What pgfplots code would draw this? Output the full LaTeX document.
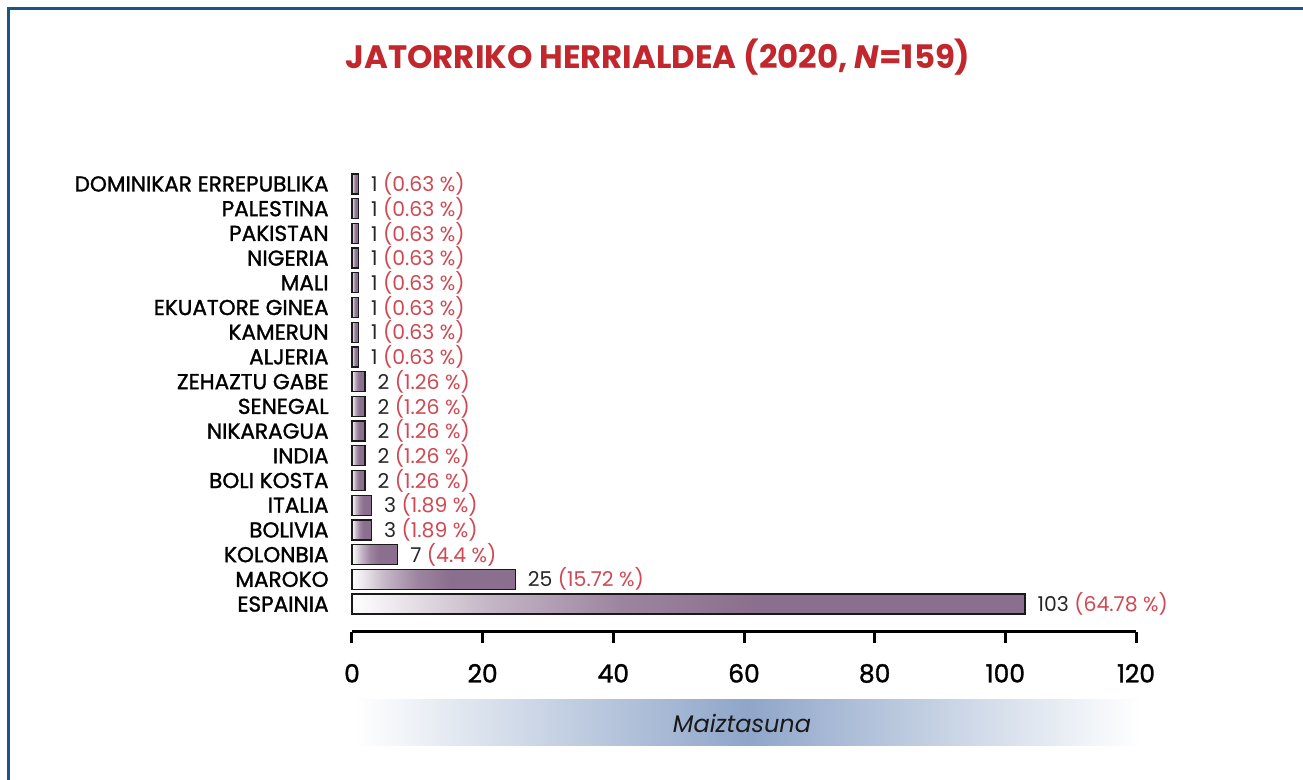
\documentclass[border=0pt]{standalone}
\usepackage{pgfplots}
\pgfplotsset{compat=1.18}
\usepackage{fontspec}
\setmainfont{Poppins}
\newfontfamily\pmed[FakeBold=1.3]{Poppins}
\definecolor{titlered}{RGB}{193,39,45}
\definecolor{pctred}{RGB}{208,72,82}
\definecolor{barpurple}{RGB}{139,111,142}
\definecolor{bandblue}{RGB}{143,166,201}
\definecolor{frameblue}{RGB}{28,84,134}
\pgfdeclarehorizontalshading{barshade}{100bp}{color(0bp)=(white); color(25bp)=(white); color(35bp)=(barpurple!50!white); color(45bp)=(barpurple!85!white); color(55bp)=(barpurple); color(100bp)=(barpurple)}
\newcommand\pc[1]{\textcolor{pctred}{(#1 \%)}}
\pgfplotsset{onebar/.style={draw=black!90, line width=0.6pt, shading=barshade}}
\begin{document}
\begin{tikzpicture}
\fill[white] (0,0) rectangle (651.5pt,-390pt);
\path[use as bounding box] (0,0) rectangle (651.5pt,-390pt);
\draw[frameblue, line width=1.5pt] (4.25pt,-390pt) -- (4.25pt,-4.25pt) -- (651.5pt,-4.25pt);
\node[text=titlered, font=\bfseries\fontsize{16.2}{19}\selectfont] at (329pt,-28.5pt) {JATORRIKO HERRIALDEA (2020, \textit{N}=159)};
\shade[left color=white, right color=white, middle color=bandblue] (177.5pt,-350pt) rectangle (570pt,-373pt);
\node[font=\itshape\fontsize{12}{14}\selectfont, text=black!90] at (371pt,-361.5pt) {Maiztasuna};
\begin{axis}[
 at={(176pt,-316pt)}, anchor=south west, scale only axis, width=392pt, height=230.2pt,
 xmin=0, xmax=120, ymin=-1.13, ymax=17.5,
 axis x line*=bottom, axis y line*=left, y axis line style={draw=none},
 x axis line style={-, line width=1.5pt},
 xtick={0,20,...,120}, tick align=outside, major tick length=5.5pt,
 xtick style={line width=1.5pt, black},
 ytick={0,...,17}, ytick style={draw=none},
 yticklabels={ESPAINIA,MAROKO,KOLONBIA,BOLIVIA,ITALIA,BOLI KOSTA,INDIA,NIKARAGUA,SENEGAL,ZEHAZTU GABE,ALJERIA,KAMERUN,EKUATORE GINEA,MALI,NIGERIA,PAKISTAN,PALESTINA,DOMINIKAR ERREPUBLIKA},
 yticklabel style={font=\pmed\fontsize{10.8}{12}\selectfont, inner sep=0pt, anchor=east, xshift=-6pt},
 xticklabel style={font=\pmed\fontsize{12.5}{14}\selectfont, yshift=-7pt},
 /pgf/number format/assume math mode=true,
 xbar, bar width=10pt, bar shift=0pt,
 nodes near coords={\pgfplotspointmeta}, point meta=explicit symbolic,
 every node near coord/.append style={anchor=west, inner sep=0pt, xshift=6pt, font=\fontsize{10.2}{12}\selectfont, text=black!85},
 clip=false,
]
\addplot[onebar] coordinates {(103,0) [103 \pc{64.78}]};
\addplot[onebar] coordinates {(25,1) [25 \pc{15.72}]};
\addplot[onebar] coordinates {(7,2) [7 \pc{4.4}]};
\addplot[onebar] coordinates {(3,3) [3 \pc{1.89}]};
\addplot[onebar] coordinates {(3,4) [3 \pc{1.89}]};
\addplot[onebar] coordinates {(2,5) [2 \pc{1.26}]};
\addplot[onebar] coordinates {(2,6) [2 \pc{1.26}]};
\addplot[onebar] coordinates {(2,7) [2 \pc{1.26}]};
\addplot[onebar] coordinates {(2,8) [2 \pc{1.26}]};
\addplot[onebar] coordinates {(2,9) [2 \pc{1.26}]};
\addplot[onebar] coordinates {(1,10) [1 \pc{0.63}]};
\addplot[onebar] coordinates {(1,11) [1 \pc{0.63}]};
\addplot[onebar] coordinates {(1,12) [1 \pc{0.63}]};
\addplot[onebar] coordinates {(1,13) [1 \pc{0.63}]};
\addplot[onebar] coordinates {(1,14) [1 \pc{0.63}]};
\addplot[onebar] coordinates {(1,15) [1 \pc{0.63}]};
\addplot[onebar] coordinates {(1,16) [1 \pc{0.63}]};
\addplot[onebar] coordinates {(1,17) [1 \pc{0.63}]};
\end{axis}
\end{tikzpicture}
\end{document}
